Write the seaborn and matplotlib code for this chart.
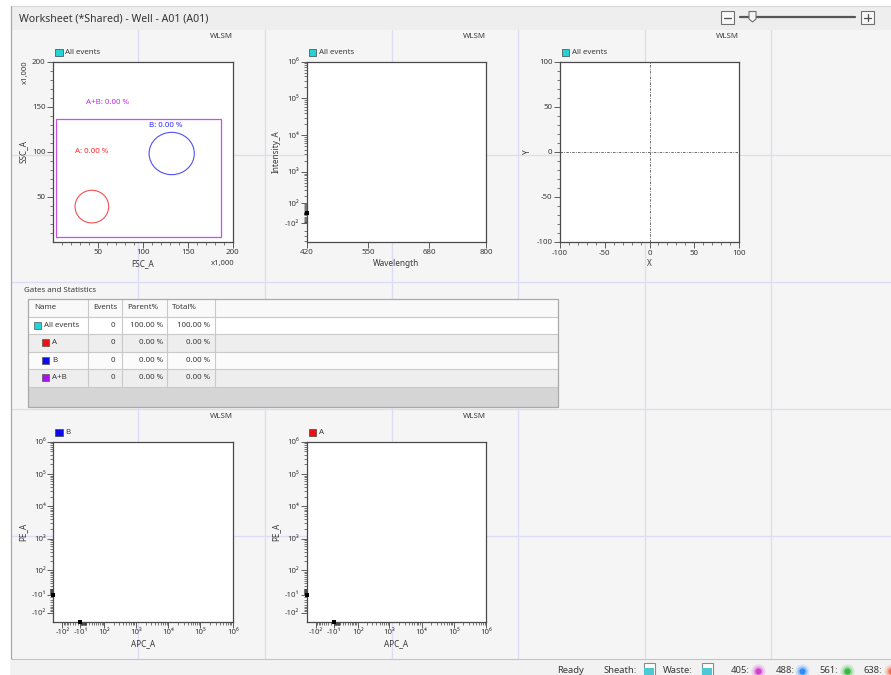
import numpy as np
import pandas as pd
import seaborn as sns
import matplotlib.pyplot as plt
from matplotlib.patches import Rectangle, Ellipse, Polygon
from matplotlib.ticker import NullFormatter

W, H = 891, 675

# ---- text / labels ----
title = "Worksheet (*Shared) - Well - A01 (A01)"
panel_tag = "WLSM"

# ---- plot 1: FSC_A vs SSC_A with gates (units x1,000) ----
fsc_ticks = [50, 100, 150, 200]
ssc_ticks = [50, 100, 150, 200]
gate_names = ["A", "B", "A+B"]
gate_pct = [0.00, 0.00, 0.00]
ell_cx = [43, 132]
ell_cy = [39, 98]
ell_w = [37.5, 50.4]
ell_h = [36.3, 47]
ab_rect = [3, 5, 187, 136]
gate_lbl_x = [24, 107, 37]
gate_lbl_y = [100, 129, 155]

# ---- plot 2: Wavelength vs Intensity_A ----
wl_ticks = [420, 550, 680, 800]
int_ticks = [-1e2, 1e2, 1e3, 1e4, 1e5, 1e6]
int_labels = ["-10²", "10²", "10³", "10⁴", "10⁵", "10⁶"]

# ---- plot 3: X vs Y ----
xy_ticks = [-100, -50, 0, 50, 100]

# ---- plots 4/5: APC_A vs PE_A ----
apc_ticks = [-1e2, -1e1, 1e2, 1e3, 1e4, 1e5, 1e6]
apc_labels = ["-10²", "-10¹", "10²", "10³", "10⁴", "10⁵", "10⁶"]
pe_ticks = [-1e2, -1e1, 1e2, 1e3, 1e4, 1e5, 1e6]
pe_labels = ["-10²", "-10¹", "10²", "10³", "10⁴", "10⁵", "10⁶"]

# events piled up on the axis edges
edge_wl = [420]
edge_int = [0]
edge_apc = [-198, -10]
edge_pe = [-10, -198]

# ---- gates and statistics table ----
tbl_cols = ["Name", "Events", "Parent%", "Total%"]
tbl_names = ["All events", "A", "B", "A+B"]
tbl_colors = ["#22d4d4", "#ee1111", "#0b0bee", "#a712ee"]
tbl_events = [0, 0, 0, 0]
tbl_parent = [100.00, 0.00, 0.00, 0.00]
tbl_total = [100.00, 0.00, 0.00, 0.00]
tbl_indent = [0, 1, 1, 1]

# ---- status bar ----
lasers = ["405", "488", "561", "638"]
laser_colors = ["#d23fd2", "#2a8cff", "#2fbf3a", "#ff6a48"]

sns.set_style("ticks")
plt.rcParams["font.family"] = ["Noto Sans", "DejaVu Sans"]
plt.rcParams["axes.unicode_minus"] = False
TXT = "#3a3a3a"
FS = 5.7

fig = plt.figure(figsize=(W / 100, H / 100), dpi=100)
fig.patch.set_facecolor("white")
ui = fig.add_axes([0, 0, 1, 1])
ui.set_xlim(0, W)
ui.set_ylim(H, 0)
ui.axis("off")

# window chrome
ui.add_patch(Rectangle((11, 30), W - 11, 629, fc="#f5f5f5", ec="none", zorder=0))
for gx in [138, 265, 392, 518, 645, 771]:
    ui.plot([gx, gx], [30, 659], color="#dcdcf4", lw=0.9, zorder=1)
for gy in [155, 282, 409, 536]:
    ui.plot([11, W], [gy, gy], color="#dcdcf4", lw=0.9, zorder=1)
ui.add_patch(Rectangle((11, 6), W - 11, 24, fc="#eeeeee", ec="none", zorder=2))
ui.plot([11, W], [6, 6], color="#d6d6d6", lw=0.8, zorder=2)
ui.plot([10.5, 10.5], [6, H], color="#a8a8a8", lw=0.9, zorder=2)
ui.text(19, 19, title, fontsize=7.6, color="#333333", va="center", ha="left")

# zoom slider
for bx, sym in [(721, "-"), (861, "+")]:
    ui.add_patch(Rectangle((bx, 11), 13, 13, fc="#f8f8f8", ec="#707070", lw=0.8, zorder=3))
    ui.plot([bx + 3, bx + 10], [17.5, 17.5], color="#505050", lw=0.9, zorder=4)
    if sym == "+":
        ui.plot([bx + 6.5, bx + 6.5], [14, 21], color="#505050", lw=0.9, zorder=4)
ui.plot([740, 855], [17, 17], color="#555555", lw=1.6, zorder=3)
ui.add_patch(Polygon([[749, 11.5], [756, 11.5], [756, 19], [752.5, 22], [749, 19]],
                     closed=True, fc="#f4f4f4", ec="#707070", lw=0.8, zorder=4))

# status bar
ui.add_patch(Rectangle((11, 659), W - 11, 16, fc="#f2f2f2", ec="none", zorder=2))
ui.plot([11, W], [659, 659], color="#c4c4c4", lw=0.8, zorder=2)
sb_y = 670.5
ui.text(557, sb_y, "Ready", fontsize=6.8, color=TXT, va="center")
ui.text(603, sb_y, "Sheath:", fontsize=6.8, color=TXT, va="center")
ui.text(663, sb_y, "Waste:", fontsize=6.8, color=TXT, va="center")
for ix in [643.5, 701.5]:
    ui.add_patch(Rectangle((ix, 662.5), 11, 13, fc="white", ec="#8a8a8a", lw=0.8, zorder=3))
    ui.add_patch(Rectangle((ix + 0.8, 668), 9.4, 7, fc="#4cc9d2", ec="none", zorder=4))
for i, (lz, lc) in enumerate(zip(lasers, laser_colors)):
    lx = 731 + i * 44.3
    ui.text(lx, sb_y, lz + ":", fontsize=6.8, color=TXT, va="center")
    dx = lx + 27
    ui.scatter([dx], [sb_y], s=110, color=lc, alpha=0.15, lw=0, zorder=3)
    ui.scatter([dx], [sb_y], s=55, color=lc, alpha=0.35, lw=0, zorder=3)
    ui.scatter([dx], [sb_y], s=20, color=lc, lw=0, zorder=4)

# table
col_x = [27.5, 88, 122, 167, 215, 558]
row_y = [299, 316.7, 334, 351.7, 369, 386.7, 406.7]
ui.text(24, 290, "Gates and Statistics", fontsize=FS, color=TXT, va="center")
tw = col_x[-1] - col_x[0]
ui.add_patch(Rectangle((col_x[0], row_y[0]), tw, row_y[-1] - row_y[0],
                       fc="white", ec="none", zorder=3))
ui.add_patch(Rectangle((col_x[0], row_y[0]), tw, row_y[1] - row_y[0],
                       fc="#f9f9f9", ec="none", zorder=3))
row_fc = ["#ffffff", "#eeeeee", "#fbfbfb", "#eeeeee"]
for r in range(4):
    ui.add_patch(Rectangle((col_x[0], row_y[r + 1]), tw, row_y[r + 2] - row_y[r + 1],
                           fc=row_fc[r], ec="none", zorder=3))
ui.add_patch(Rectangle((col_x[0], row_y[5]), tw, row_y[6] - row_y[5],
                       fc="#d5d5d5", ec="none", zorder=3))
for ry in row_y[1:6]:
    ui.plot([col_x[0], col_x[-1]], [ry, ry], color="#c9c9c9", lw=0.8, zorder=4)
for cx in col_x[1:5]:
    ui.plot([cx, cx], [row_y[0], row_y[5]], color="#c9c9c9", lw=0.8, zorder=4)
ui.add_patch(Rectangle((col_x[0], row_y[0]), tw, row_y[-1] - row_y[0],
                       fc="none", ec="#aaaaaa", lw=0.9, zorder=5))
hy = (row_y[0] + row_y[1]) / 2
for c, name in enumerate(tbl_cols):
    ui.text(col_x[c] + (5 if c else 6.5), hy, name, fontsize=FS, color=TXT, va="center",
            zorder=6)
for r in range(4):
    yc = (row_y[r + 1] + row_y[r + 2]) / 2
    sx = 34 + 8 * tbl_indent[r]
    ui.add_patch(Rectangle((sx, yc - 3.6), 7.2, 7.2, fc=tbl_colors[r], ec="#555555",
                           lw=0.5, zorder=6))
    ui.text(sx + 10, yc, tbl_names[r], fontsize=FS, color=TXT, va="center", zorder=6)
    ui.text(col_x[2] - 7, yc, str(tbl_events[r]), fontsize=FS, color=TXT, va="center",
            ha="right", zorder=6)
    ui.text(col_x[3] - 4, yc, f"{tbl_parent[r]:.2f} %", fontsize=FS, color=TXT,
            va="center", ha="right", zorder=6)
    ui.text(col_x[4] - 5, yc, f"{tbl_total[r]:.2f} %", fontsize=FS, color=TXT,
            va="center", ha="right", zorder=6)


def px_axes(x0, y0, x1, y1):
    ax = fig.add_axes([x0 / W, 1 - y1 / H, (x1 - x0) / W, (y1 - y0) / H])
    ax.set_facecolor("white")
    for s in ax.spines.values():
        s.set_linewidth(0.9)
        s.set_color("#4a4a4a")
    ax.tick_params(which="major", length=4, width=0.6, color="#444444",
                   labelsize=FS, labelcolor=TXT, pad=1.5)
    ax.tick_params(which="minor", length=2, width=0.5, color="#444444")
    return ax


def header(x_left, x_right, y_top, label, color):
    ui.text(x_right, y_top - 25, panel_tag, fontsize=FS, color=TXT, ha="right", va="center")
    ui.add_patch(Rectangle((x_left + 2, y_top - 12.5), 7.2, 7.2, fc=color, ec="#444444",
                           lw=0.5, zorder=3))
    ui.text(x_left + 12, y_top - 9, label, fontsize=FS, color=TXT, va="center")


def log_minors(lo, hi):
    vals = []
    for k in range(0, 6):
        for m in range(1, 10):
            for sgn in (1, -1):
                v = sgn * m * 10 ** k
                if lo < v < hi:
                    vals.append(v)
    return vals


def biex_labels(ax, axis, ticks, labels, lo, hi):
    if axis == "x":
        ax.set_xticks(ticks, labels=labels)
        ax.set_xticks(log_minors(lo, hi), minor=True)
        ax.xaxis.set_minor_formatter(NullFormatter())
        ax.set_xlim(lo, hi)
    else:
        ax.set_yticks(ticks, labels=labels)
        ax.set_yticks(log_minors(lo, hi), minor=True)
        ax.yaxis.set_minor_formatter(NullFormatter())
        ax.set_ylim(lo, hi)


# ---- plot 1 ----
ax1 = px_axes(53.3, 61.7, 232.7, 241.7)
ax1.set_xlim(0, 200)
ax1.set_ylim(0, 200)
ax1.set_xticks(fsc_ticks)
ax1.set_yticks(ssc_ticks)
ax1.set_xticks(np.arange(10, 200, 10), minor=True)
ax1.set_yticks(np.arange(10, 200, 10), minor=True)
ax1.set_xlabel("FSC_A", fontsize=5.9, color=TXT, labelpad=2)
ax1.set_ylabel("SSC_A", fontsize=5.9, color=TXT, labelpad=3)
ell_colors = ["#f05050", "#5050f5"]
for i in range(2):
    ax1.add_patch(Ellipse((ell_cx[i], ell_cy[i]), ell_w[i], ell_h[i], fill=False,
                          ec=ell_colors[i], lw=0.8))
ax1.add_patch(Rectangle((ab_rect[0], ab_rect[1]), ab_rect[2] - ab_rect[0],
                        ab_rect[3] - ab_rect[1], fill=False, ec="#c84ef0", lw=0.9))
gate_txt_colors = ["#ff2a2a", "#2a2aff", "#c22cf2"]
for i, g in enumerate(gate_names):
    ax1.text(gate_lbl_x[i], gate_lbl_y[i], f"{g}: {gate_pct[i]:.2f} %", fontsize=FS,
             color=gate_txt_colors[i], va="center")
ui.text(25, 72, "x1,000", fontsize=5.5, color=TXT, rotation=90, ha="center", va="center")
ui.text(222.5, 264, "x1,000", fontsize=5.5, color=TXT, ha="center", va="center")
header(53.3, 232.7, 61.7, "All events", "#22d4d4")

# ---- plot 2 ----
ax2 = px_axes(306.7, 61.7, 486, 241.7)
ax2.set_yscale("asinh", linear_width=150)
ax2.set_xlim(420, 800)
ax2.set_xticks(wl_ticks)
biex_labels(ax2, "y", int_ticks, int_labels, -430, 1e6)
sns.scatterplot(x=edge_wl, y=edge_int, ax=ax2, marker="s", color="black", s=9,
                linewidth=0, clip_on=False, zorder=5)
ax2.set_xlabel("Wavelength", fontsize=5.9, color=TXT, labelpad=2)
ax2.set_ylabel("Intensity_A", fontsize=5.9, color=TXT, labelpad=3)
header(306.7, 486, 61.7, "All events", "#22d4d4")

# ---- plot 3 ----
ax3 = px_axes(560, 61.7, 739, 242)
ax3.set_xlim(-100, 100)
ax3.set_ylim(-100, 100)
ax3.set_xticks(xy_ticks)
ax3.set_yticks(xy_ticks)
ax3.set_xticks(np.arange(-90, 100, 10), minor=True)
ax3.set_yticks(np.arange(-90, 100, 10), minor=True)
ax3.axhline(0, color="#555555", lw=0.6, ls=(0, (3, 1.5, 1, 1.5)))
ax3.axvline(0, color="#555555", lw=0.6, ls=(0, (3, 1.5, 1, 1.5)))
ax3.set_xlabel("X", fontsize=5.9, color=TXT, labelpad=2)
ax3.set_ylabel("Y", fontsize=5.9, color=TXT, labelpad=3)
header(560, 739, 61.7, "All events", "#22d4d4")

# ---- plots 4 and 5 ----
for (x0, x1), gname, gcol in [((53.3, 232.7), "B", "#0b0bee"), ((306.7, 486), "A", "#ee1111")]:
    ax = px_axes(x0, 441.7, x1, 621.7)
    ax.set_xscale("asinh", linear_width=47)
    ax.set_yscale("asinh", linear_width=47)
    biex_labels(ax, "x", apc_ticks, apc_labels, -198, 1e6)
    biex_labels(ax, "y", pe_ticks, pe_labels, -198, 1e6)
    sns.scatterplot(x=edge_apc, y=edge_pe, ax=ax, marker="s", color="black", s=9,
                    linewidth=0, clip_on=False, zorder=5)
    ax.set_xlabel("APC_A", fontsize=5.9, color=TXT, labelpad=2)
    ax.set_ylabel("PE_A", fontsize=5.9, color=TXT, labelpad=3)
    header(x0, x1, 441.7, gname, gcol)

fig.savefig("out.png", dpi=100)
